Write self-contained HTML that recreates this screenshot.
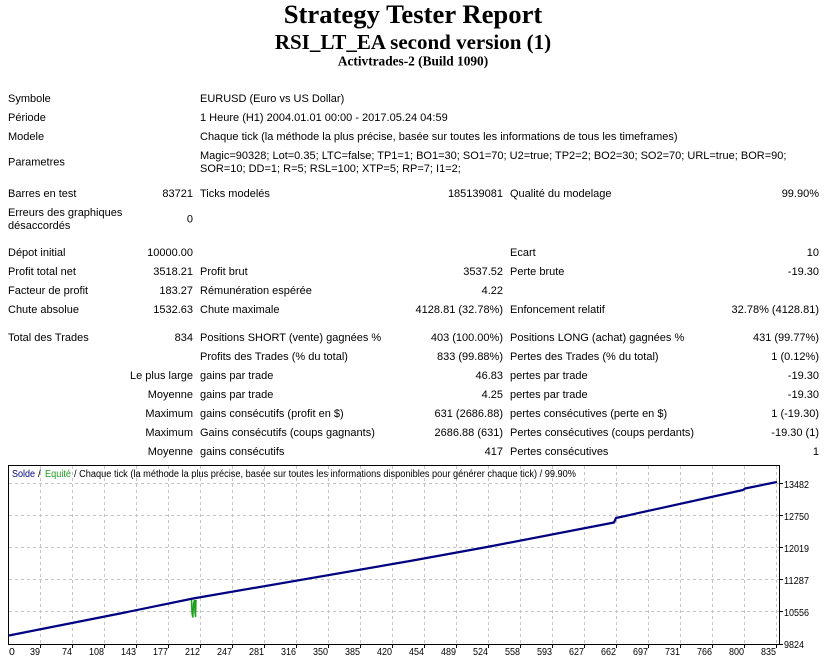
<!DOCTYPE html>
<html><head><meta charset="utf-8"><style>
html,body{margin:0;padding:0;background:#fff;width:826px;height:657px;overflow:hidden}
svg{display:block}
.t{font-family:"Liberation Sans",Arial,sans-serif;font-size:11px;fill:#000}
.ch{font-family:"Liberation Sans",Arial,sans-serif;font-size:10px;fill:#000}
.tk{font-family:"Liberation Sans",Arial,sans-serif;font-size:10.5px;fill:#000}
</style></head><body>
<svg width="826" height="657" viewBox="0 0 826 657" xmlns="http://www.w3.org/2000/svg">
<rect width="826" height="657" fill="#fff"/>
<g font-family="'Liberation Serif','Times New Roman',serif" font-weight="bold" text-anchor="middle" fill="#000">
<text x="413" y="23" font-size="26.67">Strategy Tester Report</text>
<text x="413" y="49" font-size="21">RSI_LT_EA second version (1)</text>
<text x="413" y="65.5" font-size="13.33">Activtrades-2 (Build 1090)</text>
</g>
<g class="t">
<text x="8" y="102">Symbole</text><text x="200" y="102">EURUSD (Euro vs US Dollar)</text>
<text x="8" y="121">Période</text><text x="200" y="121">1 Heure (H1) 2004.01.01 00:00 - 2017.05.24 04:59</text>
<text x="8" y="140">Modele</text><text x="200" y="140">Chaque tick (la méthode la plus précise, basée sur toutes les informations de tous les timeframes)</text>
<text x="8" y="165.5">Parametres</text>
<text x="200" y="159">Magic=90328; Lot=0.35; LTC=false; TP1=1; BO1=30; SO1=70; U2=true; TP2=2; BO2=30; SO2=70; URL=true; BOR=90;</text>
<text x="200" y="172">SOR=10; DD=1; R=5; RSL=100; XTP=5; RP=7; I1=2;</text>

<text x="8" y="197">Barres en test</text><text x="193" y="197" text-anchor="end">83721</text>
<text x="200" y="197">Ticks modelés</text><text x="503" y="197" text-anchor="end">185139081</text>
<text x="510" y="197">Qualité du modelage</text><text x="819" y="197" text-anchor="end">99.90%</text>

<text x="8" y="216">Erreurs des graphiques</text><text x="8" y="229">désaccordés</text>
<text x="193" y="222.5" text-anchor="end">0</text>

<text x="8" y="256">Dépot initial</text><text x="193" y="256" text-anchor="end">10000.00</text>
<text x="510" y="256">Ecart</text><text x="819" y="256" text-anchor="end">10</text>

<text x="8" y="275">Profit total net</text><text x="193" y="275" text-anchor="end">3518.21</text>
<text x="200" y="275">Profit brut</text><text x="503" y="275" text-anchor="end">3537.52</text>
<text x="510" y="275">Perte brute</text><text x="819" y="275" text-anchor="end">-19.30</text>

<text x="8" y="294">Facteur de profit</text><text x="193" y="294" text-anchor="end">183.27</text>
<text x="200" y="294">Rémunération espérée</text><text x="503" y="294" text-anchor="end">4.22</text>

<text x="8" y="313">Chute absolue</text><text x="193" y="313" text-anchor="end">1532.63</text>
<text x="200" y="313">Chute maximale</text><text x="503" y="313" text-anchor="end">4128.81 (32.78%)</text>
<text x="510" y="313">Enfoncement relatif</text><text x="819" y="313" text-anchor="end">32.78% (4128.81)</text>

<text x="8" y="341">Total des Trades</text><text x="193" y="341" text-anchor="end">834</text>
<text x="200" y="341">Positions SHORT (vente) gagnées %</text><text x="503" y="341" text-anchor="end">403 (100.00%)</text>
<text x="510" y="341">Positions LONG (achat) gagnées %</text><text x="819" y="341" text-anchor="end">431 (99.77%)</text>

<text x="200" y="360">Profits des Trades (% du total)</text><text x="503" y="360" text-anchor="end">833 (99.88%)</text>
<text x="510" y="360">Pertes des Trades (% du total)</text><text x="819" y="360" text-anchor="end">1 (0.12%)</text>

<text x="193" y="379" text-anchor="end">Le plus large</text>
<text x="200" y="379">gains par trade</text><text x="503" y="379" text-anchor="end">46.83</text>
<text x="510" y="379">pertes par trade</text><text x="819" y="379" text-anchor="end">-19.30</text>

<text x="193" y="398" text-anchor="end">Moyenne</text>
<text x="200" y="398">gains par trade</text><text x="503" y="398" text-anchor="end">4.25</text>
<text x="510" y="398">pertes par trade</text><text x="819" y="398" text-anchor="end">-19.30</text>

<text x="193" y="417" text-anchor="end">Maximum</text>
<text x="200" y="417">gains consécutifs (profit en $)</text><text x="503" y="417" text-anchor="end">631 (2686.88)</text>
<text x="510" y="417">pertes consécutives (perte en $)</text><text x="819" y="417" text-anchor="end">1 (-19.30)</text>

<text x="193" y="436" text-anchor="end">Maximum</text>
<text x="200" y="436">Gains consécutifs (coups gagnants)</text><text x="503" y="436" text-anchor="end">2686.88 (631)</text>
<text x="510" y="436">Pertes consécutives (coups perdants)</text><text x="819" y="436" text-anchor="end">-19.30 (1)</text>

<text x="193" y="455" text-anchor="end">Moyenne</text>
<text x="200" y="455">gains consécutifs</text><text x="503" y="455" text-anchor="end">417</text>
<text x="510" y="455">Pertes consécutives</text><text x="819" y="455" text-anchor="end">1</text>
</g>

<!-- chart -->
<rect x="8.5" y="465.5" width="771" height="179" fill="#fff"/>
<g stroke="#c4c4c4" stroke-width="1" stroke-dasharray="3,3" fill="none">
<path d="M9 483.5H779M9 515.5H779M9 547.5H779M9 579.5H779M9 611.5H779"/>
<path d="M40.5 466V644M72.5 466V644M104.5 466V644M136.5 466V644M168.5 466V644M200.5 466V644M232.5 466V644M264.5 466V644M296.5 466V644M328.5 466V644M360.5 466V644M392.5 466V644M424.5 466V644M456.5 466V644M488.5 466V644M520.5 466V644M552.5 466V644M584.5 466V644M616.5 466V644M648.5 466V644M680.5 466V644M712.5 466V644M744.5 466V644M776.5 466V644"/>
</g>
<g stroke="#000" stroke-width="1" fill="none">
<path d="M8.5 465.5H779.5V644.5H8.5Z"/>
<path d="M40.5 645V648M72.5 645V648M104.5 645V648M136.5 645V648M168.5 645V648M200.5 645V648M232.5 645V648M264.5 645V648M296.5 645V648M328.5 645V648M360.5 645V648M392.5 645V648M424.5 645V648M456.5 645V648M488.5 645V648M520.5 645V648M552.5 645V648M584.5 645V648M616.5 645V648M648.5 645V648M680.5 645V648M712.5 645V648M744.5 645V648M776.5 645V648"/>
<path d="M780 483.5H783M780 515.5H783M780 547.5H783M780 579.5H783M780 611.5H783M780 644.5H783"/>
</g>
<g class="ch">
<text x="12" y="477" fill="#000080" textLength="23" lengthAdjust="spacingAndGlyphs">Solde</text>
<text x="38" y="477">/</text>
<text x="45" y="477" fill="#1ea01e" textLength="26" lengthAdjust="spacingAndGlyphs">Equité</text>
<text x="74" y="477" textLength="502" lengthAdjust="spacingAndGlyphs">/ Chaque tick (la méthode la plus précise, basée sur toutes les informations disponibles pour générer chaque tick) / 99.90%</text>
</g>
<g class="tk" text-anchor="end">
<text x="9" y="655" text-anchor="start">0</text>
<text x="40" y="655" textLength="10" lengthAdjust="spacingAndGlyphs">39</text>
<text x="72" y="655" textLength="10" lengthAdjust="spacingAndGlyphs">74</text>
<text x="104" y="655" textLength="15" lengthAdjust="spacingAndGlyphs">108</text>
<text x="136" y="655" textLength="15" lengthAdjust="spacingAndGlyphs">143</text>
<text x="168" y="655" textLength="15" lengthAdjust="spacingAndGlyphs">177</text>
<text x="200" y="655" textLength="15" lengthAdjust="spacingAndGlyphs">212</text>
<text x="232" y="655" textLength="15" lengthAdjust="spacingAndGlyphs">247</text>
<text x="264" y="655" textLength="15" lengthAdjust="spacingAndGlyphs">281</text>
<text x="296" y="655" textLength="15" lengthAdjust="spacingAndGlyphs">316</text>
<text x="328" y="655" textLength="15" lengthAdjust="spacingAndGlyphs">350</text>
<text x="360" y="655" textLength="15" lengthAdjust="spacingAndGlyphs">385</text>
<text x="392" y="655" textLength="15" lengthAdjust="spacingAndGlyphs">420</text>
<text x="424" y="655" textLength="15" lengthAdjust="spacingAndGlyphs">454</text>
<text x="456" y="655" textLength="15" lengthAdjust="spacingAndGlyphs">489</text>
<text x="488" y="655" textLength="15" lengthAdjust="spacingAndGlyphs">524</text>
<text x="520" y="655" textLength="15" lengthAdjust="spacingAndGlyphs">558</text>
<text x="552" y="655" textLength="15" lengthAdjust="spacingAndGlyphs">593</text>
<text x="584" y="655" textLength="15" lengthAdjust="spacingAndGlyphs">627</text>
<text x="616" y="655" textLength="15" lengthAdjust="spacingAndGlyphs">662</text>
<text x="648" y="655" textLength="15" lengthAdjust="spacingAndGlyphs">697</text>
<text x="680" y="655" textLength="15" lengthAdjust="spacingAndGlyphs">731</text>
<text x="712" y="655" textLength="15" lengthAdjust="spacingAndGlyphs">766</text>
<text x="744" y="655" textLength="15" lengthAdjust="spacingAndGlyphs">800</text>
<text x="776" y="655" textLength="15" lengthAdjust="spacingAndGlyphs">835</text>
</g>
<g class="tk">
<text x="784" y="488" textLength="25" lengthAdjust="spacingAndGlyphs">13482</text>
<text x="784" y="520" textLength="25" lengthAdjust="spacingAndGlyphs">12750</text>
<text x="784" y="552" textLength="25" lengthAdjust="spacingAndGlyphs">12019</text>
<text x="784" y="584" textLength="25" lengthAdjust="spacingAndGlyphs">11287</text>
<text x="784" y="616" textLength="25" lengthAdjust="spacingAndGlyphs">10556</text>
<text x="784" y="648" textLength="20" lengthAdjust="spacingAndGlyphs">9824</text>
</g>
<polyline fill="none" stroke="#1ea01e" stroke-width="1.5" points="191.5,599 192,613 192.8,617.5 193.6,603 194.5,600 195,612 195.5,617 196,600"/>
<polyline fill="none" stroke="#000080" stroke-width="2.2" stroke-linejoin="round" points="9,635.5 120,613.5 193,598.5 410,561 487,547 614,522.5 616,518 743,490 745,488.5 777,482"/>
</svg>
</body></html>
